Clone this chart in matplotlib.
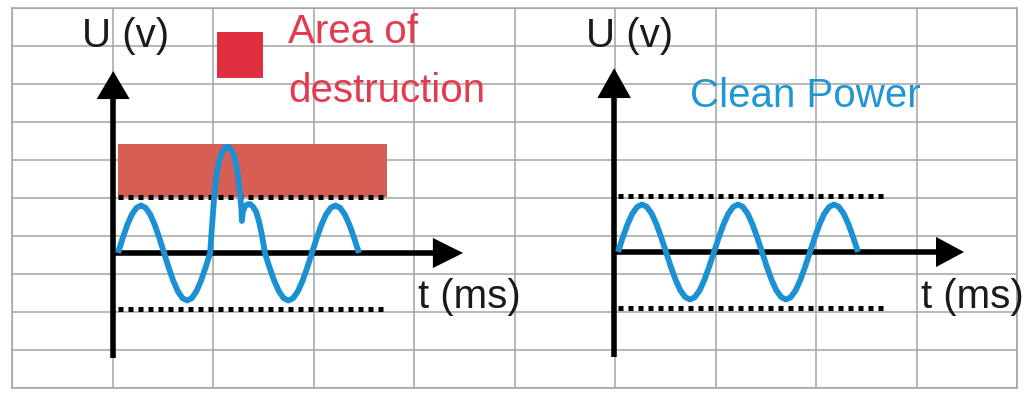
import matplotlib
matplotlib.use("Agg")
import matplotlib.pyplot as plt
from matplotlib import font_manager

# ---------------- data ----------------
# Clean power: time in ms, voltage in V
clean_t = [0, 1, 2, 3, 4, 5, 6, 7, 8, 9, 10, 11, 12, 13, 14, 15, 16, 17, 18, 19,
           20, 21, 22, 23, 24, 25, 26, 27, 28, 29, 30, 31, 32, 33, 34, 35, 36, 37, 38, 39,
           40, 41, 42, 43, 44, 45, 46, 47, 48, 49, 50]
clean_u = [0, 100, 191, 263, 309, 325, 309, 263, 191, 100, 0, -100, -191, -263, -309, -325, -309, -263, -191, -100,
           0, 100, 191, 263, 309, 325, 309, 263, 191, 100, 0, -100, -191, -263, -309, -325, -309, -263, -191, -100,
           0, 100, 191, 263, 309, 325, 309, 263, 191, 100, 0]

# Disturbed supply with a surge spike
dirty_t = [0, 0.96, 1.92, 2.88, 3.84, 4.8, 5.76, 6.72, 7.68, 8.64, 9.6, 10.56, 11.52, 12.48, 13.44,
           14.4, 15.36, 16.32, 17.28, 18.24, 19.2,
           19.5, 19.8, 20.1, 20.5, 21.0, 21.7, 22.4, 23.1, 23.9, 24.5, 25.0, 25.4, 25.7, 25.8,
           26.0, 26.4, 26.9, 27.5, 28.1, 28.8, 29.4, 29.9, 30.3, 30.6,
           31.58, 32.56, 33.54, 34.52, 35.5, 36.48, 37.46, 38.44, 39.42, 40.4, 41.38, 42.36,
           43.34, 44.32, 45.3, 46.28, 47.26, 48.24, 49.22, 50.2]
dirty_u = [0, 100, 191, 263, 309, 325, 309, 263, 191, 100, 0, -100, -191, -263, -309,
           -325, -309, -263, -191, -100, 0,
           144, 280, 410, 527, 622, 691, 725, 725, 691, 622, 527, 410, 308, 219,
           280, 315, 332, 335, 318, 280, 212, 137, 62, 0,
           -100, -191, -263, -309, -325, -309, -263, -191, -100, 0, 100, 191,
           263, 309, 325, 309, 263, 191, 100, 0]

limit_v = 380            # tolerance lines (V)
destruction_top_v = 745  # top of destruction band (V)
window_ms = [0, 56]      # extent of the dotted lines / band (ms)

y_label = "U (v)"
x_label = "t (ms)"
legend_text = ["Area of", "destruction"]
clean_title = "Clean Power"

# ---------------- styling ----------------
W, H = 1029, 399
PX_PER_MS = 4.8
V_PER_PX = 6.84

names = {f.name for f in font_manager.fontManager.ttflist}
if "Liberation Sans Narrow" in names:
    FONT, FS = "Liberation Sans Narrow", 34
else:
    FONT, FS = "Liberation Sans", 29

BLUE = "#1b91d3"
BAND = "#d65e55"
SWATCH = "#e0303f"
RED_TXT = "#e33a4e"
BLUE_TXT = "#2096d4"
TXT = "#1a1a1a"
GRID = "#a4a4a4"

fig = plt.figure(figsize=(W / 100, H / 100), dpi=100)
fig.patch.set_facecolor("white")

# background grid (10 x 10 cells)
gx0, gx1, gy_top, gy_bot = 12, 1017, 8, 388
axg = fig.add_axes([gx0 / W, (H - gy_bot) / H, (gx1 - gx0) / W, (gy_bot - gy_top) / H])
axg.set_xlim(0, 10)
axg.set_ylim(0, 10)
axg.set_xticks(range(11))
axg.set_yticks(range(11))
axg.tick_params(length=0, labelbottom=False, labelleft=False)
axg.grid(True, color=GRID, lw=1.1)
for s in axg.spines.values():
    s.set_color(GRID)
    s.set_linewidth(1.1)


def panel(ox, oy):
    ax = fig.add_axes([0, 0, 1, 1])
    ax.set_xlim((0 - ox) / PX_PER_MS, (W - ox) / PX_PER_MS)
    ax.set_ylim((oy - H) * V_PER_PX, oy * V_PER_PX)
    ax.axis("off")
    ax.patch.set_alpha(0)
    return ax


def draw_axes(ax, t_axis, u_bottom, u_base, u_tip, t_base, t_tip, head_half_t, head_half_u):
    lw = 4.0
    ax.plot([t_axis, t_axis], [u_bottom, u_base + 5], color="black", lw=lw,
            solid_capstyle="butt", zorder=4)
    ax.fill([t_axis - head_half_t, t_axis + head_half_t, t_axis],
            [u_base, u_base, u_tip], color="black", lw=0, zorder=4)
    ax.plot([t_axis - 0.5, t_base + 0.2], [0, 0], color="black", lw=lw,
            solid_capstyle="butt", zorder=4)
    ax.fill([t_base, t_base, t_tip], [-head_half_u, head_half_u, 0],
            color="black", lw=0, zorder=4)


def draw_limits(ax):
    for v in (limit_v, -limit_v):
        ax.plot(window_ms, [v, v], color="black", lw=3.6, linestyle=(0, (1, 1)),
                dash_capstyle="butt", zorder=3)


# ---- left panel: distorted power ----
axL = panel(118, 253)
axL.fill_between(window_ms, limit_v, destruction_top_v, color=BAND, lw=0, zorder=1)
draw_limits(axL)
axL.plot(dirty_t, dirty_u, color=BLUE, lw=4.2, solid_joinstyle="round",
         solid_capstyle="butt", zorder=5)
draw_axes(axL, -1.0, -718, 1053, 1245, 65.6, 71.9, 3.44, 103)
axL.text(-7.5, 1409, y_label, fontsize=FS, family=FONT, color=TXT, ha="left", va="baseline")
axL.text(62.5, -376, x_label, fontsize=FS, family=FONT, color=TXT, ha="left", va="baseline")
axL.fill_between([20.6, 30.2], 1197, 1512, color=SWATCH, lw=0)
axL.text(35.4, 1436, legend_text[0], fontsize=FS, family=FONT, color=RED_TXT,
         ha="left", va="baseline")
axL.text(35.4, 1033, legend_text[1], fontsize=FS, family=FONT, color=RED_TXT,
         ha="left", va="baseline")

# ---- right panel: clean power ----
axR = panel(618, 252)
draw_limits(axR)
axR.plot(clean_t, clean_u, color=BLUE, lw=4.2, solid_joinstyle="round",
         solid_capstyle="butt", zorder=5)
draw_axes(axR, -0.8, -718, 1053, 1258, 66.25, 72.1, 3.5, 103)
axR.text(-6.7, 1402, y_label, fontsize=FS, family=FONT, color=TXT, ha="left", va="baseline")
axR.text(63.1, -383, x_label, fontsize=FS, family=FONT, color=TXT, ha="left", va="baseline")
axR.text(15, 992, clean_title, fontsize=FS, family=FONT, color=BLUE_TXT,
         ha="left", va="baseline")

fig.savefig("out.png", dpi=100, facecolor="white")
